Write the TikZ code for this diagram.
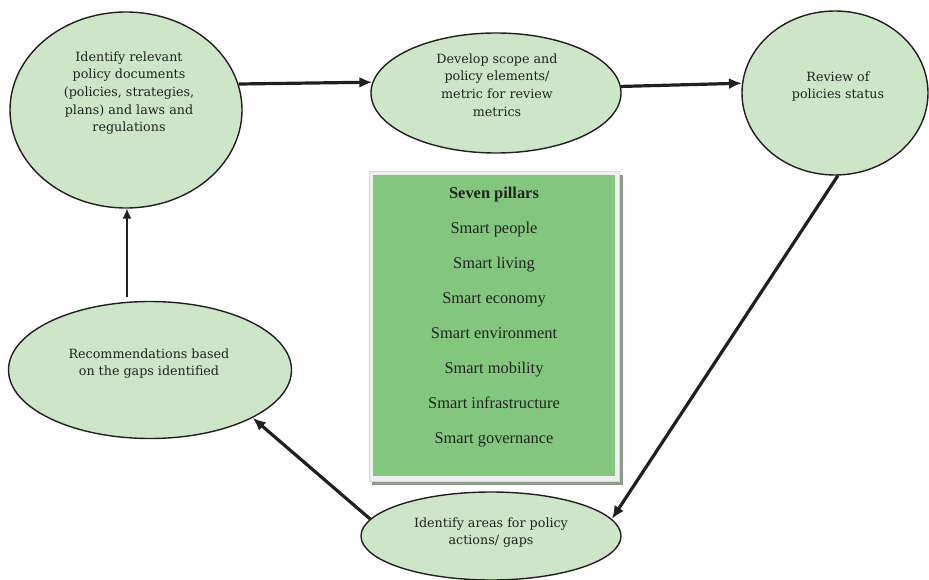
\documentclass[tikz,border=0pt]{standalone}
\usepackage{fontspec}
\setmainfont{Liberation Serif}
\newfontfamily\ellfont{DejaVu Serif}
\usetikzlibrary{arrows.meta}
\definecolor{ellfill}{HTML}{CDE6C8}
\definecolor{boxgreen}{HTML}{83C77E}
\definecolor{framegray}{HTML}{EEEFF0}
\definecolor{shadowgray}{HTML}{8E9C8B}
\definecolor{inkc}{HTML}{231F20}
\definecolor{txtc}{HTML}{222222}
\tikzset{
  ell/.style={ellipse, draw=inkc, line width=1.4pt, fill=ellfill, inner sep=0pt},
  elltext/.style={align=center, text=txtc, font=\ellfont\fontsize{12.7}{17.6}\selectfont, inner sep=0pt},
  pillar/.style={anchor=base, text=txtc, font=\fontsize{16.4}{19}\selectfont, inner sep=0pt},
  thickarrow/.style={draw=inkc, line width=3.2pt, -{Latex[length=13pt,width=11pt]}},
  thinarrow/.style={draw=inkc, line width=1.1pt, -{Latex[length=10pt,width=9pt]}}
}
\usetikzlibrary{shapes.geometric}
\begin{document}
\begin{tikzpicture}[x=1pt,y=-1pt]
\useasboundingbox (0,0) rectangle (929,580);
% ellipses
\node[ell, minimum width=232pt, minimum height=196pt] (e1) at (126,110) {};
\node[ell, minimum width=250pt, minimum height=120pt] (e2) at (496,93) {};
\node[ell, minimum width=186pt, minimum height=164pt] (e3) at (835,93) {};
\node[ell, minimum width=283pt, minimum height=137pt] (e4) at (150,370) {};
\node[ell, minimum width=260pt, minimum height=88pt] (e5) at (491,536) {};
% ellipse texts
\node[elltext] (t1) at (129,93) {Identify relevant\\policy documents\\(policies, strategies,\\plans) and laws and\\regulations};
\node[elltext] (t2) at (497,85) {Develop scope and\\policy elements/\\metric for review\\metrics};
\node[elltext] (t3) at (838,86.5) {Review of\\policies status};
\node[elltext] (t4) at (149,363.5) {Recommendations based\\on the gaps identified};
\node[elltext] (t5) at (491,532.5) {Identify areas for policy\\actions/ gaps};
% pillars box
\fill[shadowgray] (372,175) rectangle (623,485);
\draw[fill=framegray, draw=black!15, line width=0.5pt] (369,171) rectangle (619.5,481);
\fill[boxgreen] (373,175) rectangle (615,476);
\node[pillar, font=\bfseries\fontsize{16.4}{19}\selectfont] (p0) at (494,198.5) {Seven pillars};
\node[pillar] (p1) at (494,233.5) {Smart people};
\node[pillar] (p2) at (494,268.5) {Smart living};
\node[pillar] (p3) at (494,303.5) {Smart economy};
\node[pillar] (p4) at (494,338.5) {Smart environment};
\node[pillar] (p5) at (494,373.5) {Smart mobility};
\node[pillar] (p6) at (494,408.5) {Smart infrastructure};
\node[pillar] (p7) at (494,443.5) {Smart governance};
% connectors
\coordinate (c41) at (127,297);
\draw[thickarrow] (e1.13) -- (e2.175);
\draw[thickarrow] (e2.3) -- (e3.174);
\draw[thickarrow] (e3.-88) -- (e5.8);
\draw[thickarrow] (e5.172) -- (e4.-25);
\draw[thinarrow] (c41) -- (c41 |- e1.south);
\end{tikzpicture}
\end{document}
